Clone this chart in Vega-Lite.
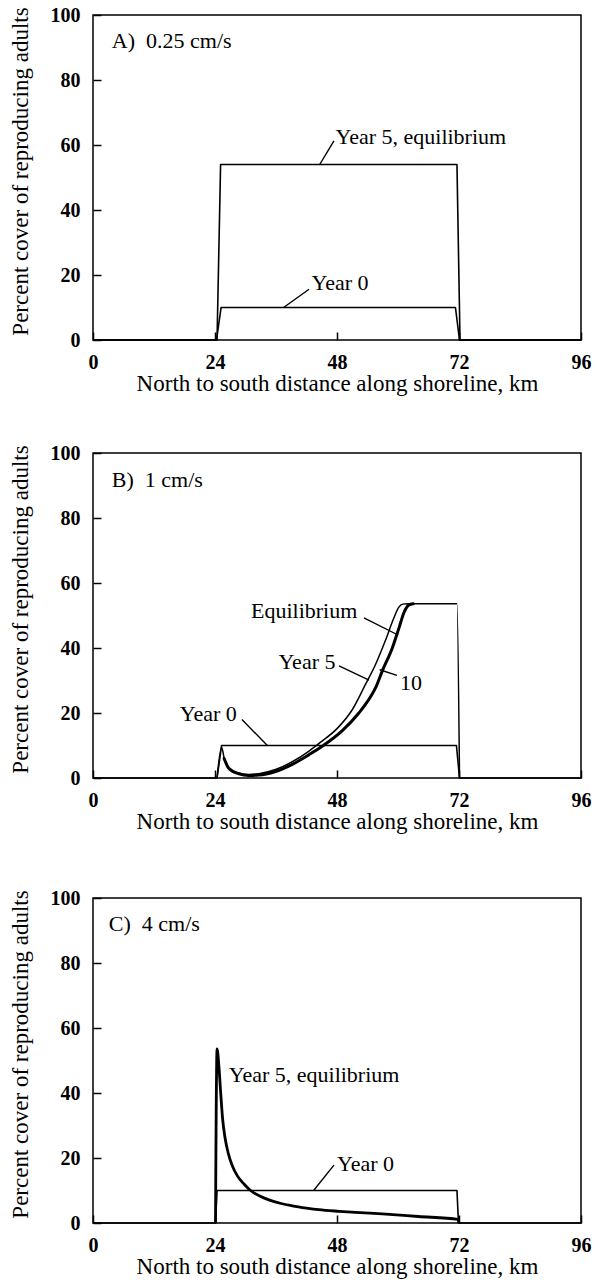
{
  "$schema": "https://vega.github.io/schema/vega-lite/v6.json",
  "padding": {"left": 8, "top": 4, "right": 5, "bottom": 5},
  "background": "white",
  "config": {
    "font": "Liberation Serif",
    "view": {"stroke": "black", "strokeWidth": 1.5},
    "axis": {
      "domain": false, "grid": false,
      "tickColor": "black", "tickSize": -8, "tickWidth": 1.5,
      "labelColor": "black", "labelFont": "Liberation Serif", "labelFontSize": 20, "labelFontWeight": "bold",
      "titleColor": "black", "titleFont": "Liberation Serif", "titleFontSize": 23, "titleFontWeight": "normal"
    },
    "text": {"font": "Liberation Serif", "fontSize": 22, "color": "black"}
  },
  "datasets": {
    "curves": [
      {"panel": "A", "series": "Year 0", "i": 0, "x": 0, "y": 0},
      {"panel": "A", "series": "Year 0", "i": 1, "x": 24.3, "y": 0},
      {"panel": "A", "series": "Year 0", "i": 2, "x": 25.2, "y": 10},
      {"panel": "A", "series": "Year 0", "i": 3, "x": 71.3, "y": 10},
      {"panel": "A", "series": "Year 0", "i": 4, "x": 72.1, "y": 0},
      {"panel": "A", "series": "Year 0", "i": 5, "x": 96, "y": 0},
      {"panel": "A", "series": "Year 5, equilibrium", "i": 0, "x": 0, "y": 0},
      {"panel": "A", "series": "Year 5, equilibrium", "i": 1, "x": 24.4, "y": 0},
      {"panel": "A", "series": "Year 5, equilibrium", "i": 2, "x": 25.1, "y": 54},
      {"panel": "A", "series": "Year 5, equilibrium", "i": 3, "x": 71.6, "y": 54},
      {"panel": "A", "series": "Year 5, equilibrium", "i": 4, "x": 72.2, "y": 0},
      {"panel": "A", "series": "Year 5, equilibrium", "i": 5, "x": 96, "y": 0},

      {"panel": "B", "series": "Year 0", "i": 0, "x": 0, "y": 0},
      {"panel": "B", "series": "Year 0", "i": 1, "x": 24.4, "y": 0},
      {"panel": "B", "series": "Year 0", "i": 2, "x": 25.3, "y": 10},
      {"panel": "B", "series": "Year 0", "i": 3, "x": 71.5, "y": 10},
      {"panel": "B", "series": "Year 0", "i": 4, "x": 72.1, "y": 0},
      {"panel": "B", "series": "Year 0", "i": 5, "x": 96, "y": 0},
      {"panel": "B", "series": "Year 5", "i": 1, "x": 24.4, "y": 0},
      {"panel": "B", "series": "Year 5", "i": 2, "x": 25.3, "y": 9.5},
      {"panel": "B", "series": "Year 5", "i": 3, "x": 25.8, "y": 6.2},
      {"panel": "B", "series": "Year 5", "i": 4, "x": 26.7, "y": 3.1},
      {"panel": "B", "series": "Year 5", "i": 5, "x": 28.7, "y": 1.5},
      {"panel": "B", "series": "Year 5", "i": 6, "x": 30.6, "y": 1.1},
      {"panel": "B", "series": "Year 5", "i": 7, "x": 32.6, "y": 1.3},
      {"panel": "B", "series": "Year 5", "i": 8, "x": 35.9, "y": 2.6},
      {"panel": "B", "series": "Year 5", "i": 9, "x": 39.2, "y": 5.0},
      {"panel": "B", "series": "Year 5", "i": 10, "x": 42.5, "y": 8.3},
      {"panel": "B", "series": "Year 5", "i": 11, "x": 44.6, "y": 10.8},
      {"panel": "B", "series": "Year 5", "i": 12, "x": 48.2, "y": 15.5},
      {"panel": "B", "series": "Year 5", "i": 13, "x": 51.0, "y": 21.0},
      {"panel": "B", "series": "Year 5", "i": 14, "x": 53.6, "y": 28.8},
      {"panel": "B", "series": "Year 5", "i": 15, "x": 55.6, "y": 35.0},
      {"panel": "B", "series": "Year 5", "i": 16, "x": 57.5, "y": 42.2},
      {"panel": "B", "series": "Year 5", "i": 17, "x": 59.2, "y": 49.3},
      {"panel": "B", "series": "Year 5", "i": 18, "x": 60.1, "y": 52.4},
      {"panel": "B", "series": "Year 5", "i": 19, "x": 60.9, "y": 53.5},
      {"panel": "B", "series": "Year 5", "i": 20, "x": 62.0, "y": 53.6},
      {"panel": "B", "series": "Year 5", "i": 21, "x": 71.6, "y": 53.6},
      {"panel": "B", "series": "Year 5", "i": 22, "x": 72.1, "y": 0},
      {"panel": "B", "series": "Equilibrium", "i": 3, "x": 25.8, "y": 6.0},
      {"panel": "B", "series": "Equilibrium", "i": 4, "x": 26.7, "y": 3.0},
      {"panel": "B", "series": "Equilibrium", "i": 5, "x": 28.7, "y": 1.3},
      {"panel": "B", "series": "Equilibrium", "i": 6, "x": 30.6, "y": 0.8},
      {"panel": "B", "series": "Equilibrium", "i": 7, "x": 32.6, "y": 0.9},
      {"panel": "B", "series": "Equilibrium", "i": 8, "x": 35.9, "y": 2.0},
      {"panel": "B", "series": "Equilibrium", "i": 9, "x": 39.2, "y": 4.2},
      {"panel": "B", "series": "Equilibrium", "i": 10, "x": 42.5, "y": 7.2},
      {"panel": "B", "series": "Equilibrium", "i": 11, "x": 45.3, "y": 10.0},
      {"panel": "B", "series": "Equilibrium", "i": 12, "x": 49.0, "y": 14.5},
      {"panel": "B", "series": "Equilibrium", "i": 13, "x": 52.3, "y": 20.0},
      {"panel": "B", "series": "Equilibrium", "i": 14, "x": 54.6, "y": 25.0},
      {"panel": "B", "series": "Equilibrium", "i": 15, "x": 55.6, "y": 27.8},
      {"panel": "B", "series": "Equilibrium", "i": 16, "x": 56.9, "y": 32.9},
      {"panel": "B", "series": "Equilibrium", "i": 17, "x": 58.9, "y": 40.1},
      {"panel": "B", "series": "Equilibrium", "i": 18, "x": 60.2, "y": 46.2},
      {"panel": "B", "series": "Equilibrium", "i": 19, "x": 61.2, "y": 51.0},
      {"panel": "B", "series": "Equilibrium", "i": 20, "x": 62.1, "y": 53.2},
      {"panel": "B", "series": "Equilibrium", "i": 21, "x": 63.0, "y": 53.6},

      {"panel": "C", "series": "Year 0", "i": 0, "x": 0, "y": 0},
      {"panel": "C", "series": "Year 0", "i": 1, "x": 24.1, "y": 0},
      {"panel": "C", "series": "Year 0", "i": 2, "x": 24.4, "y": 10},
      {"panel": "C", "series": "Year 0", "i": 3, "x": 71.6, "y": 10},
      {"panel": "C", "series": "Year 0", "i": 4, "x": 71.9, "y": 0},
      {"panel": "C", "series": "Year 0", "i": 5, "x": 96, "y": 0},
      {"panel": "C", "series": "Year 5, equilibrium", "i": 1, "x": 24.1, "y": 0},
      {"panel": "C", "series": "Year 5, equilibrium", "i": 2, "x": 24.4, "y": 53.6},
      {"panel": "C", "series": "Year 5, equilibrium", "i": 3, "x": 24.8, "y": 47.5},
      {"panel": "C", "series": "Year 5, equilibrium", "i": 4, "x": 25.1, "y": 40.5},
      {"panel": "C", "series": "Year 5, equilibrium", "i": 5, "x": 25.5, "y": 32.0},
      {"panel": "C", "series": "Year 5, equilibrium", "i": 6, "x": 26.0, "y": 26.0},
      {"panel": "C", "series": "Year 5, equilibrium", "i": 7, "x": 26.6, "y": 21.5},
      {"panel": "C", "series": "Year 5, equilibrium", "i": 8, "x": 27.4, "y": 17.6},
      {"panel": "C", "series": "Year 5, equilibrium", "i": 9, "x": 28.4, "y": 14.5},
      {"panel": "C", "series": "Year 5, equilibrium", "i": 10, "x": 29.7, "y": 12.0},
      {"panel": "C", "series": "Year 5, equilibrium", "i": 11, "x": 31.0, "y": 10.0},
      {"panel": "C", "series": "Year 5, equilibrium", "i": 12, "x": 32.8, "y": 8.3},
      {"panel": "C", "series": "Year 5, equilibrium", "i": 13, "x": 34.6, "y": 7.1},
      {"panel": "C", "series": "Year 5, equilibrium", "i": 14, "x": 37.0, "y": 6.0},
      {"panel": "C", "series": "Year 5, equilibrium", "i": 15, "x": 39.2, "y": 5.3},
      {"panel": "C", "series": "Year 5, equilibrium", "i": 16, "x": 42.0, "y": 4.6},
      {"panel": "C", "series": "Year 5, equilibrium", "i": 17, "x": 44.4, "y": 4.1},
      {"panel": "C", "series": "Year 5, equilibrium", "i": 18, "x": 48.4, "y": 3.6},
      {"panel": "C", "series": "Year 5, equilibrium", "i": 19, "x": 52.5, "y": 3.2},
      {"panel": "C", "series": "Year 5, equilibrium", "i": 20, "x": 56.9, "y": 2.8},
      {"panel": "C", "series": "Year 5, equilibrium", "i": 21, "x": 64.0, "y": 2.0},
      {"panel": "C", "series": "Year 5, equilibrium", "i": 22, "x": 71.8, "y": 1.1},
      {"panel": "C", "series": "Year 5, equilibrium", "i": 23, "x": 72.0, "y": 0}
    ],
    "pointers": [
      {"panel": "A", "x": 44.6, "y": 54, "x2": 47.4, "y2": 61.3},
      {"panel": "A", "x": 37.5, "y": 10, "x2": 42.5, "y2": 15.6},
      {"panel": "B", "x": 53.3, "y": 49.3, "x2": 60.0, "y2": 44.0},
      {"panel": "B", "x": 48.4, "y": 34.5, "x2": 54.3, "y2": 30.1},
      {"panel": "B", "x": 59.8, "y": 31.6, "x2": 56.4, "y2": 33.3},
      {"panel": "B", "x": 29.3, "y": 18, "x2": 34.3, "y2": 10},
      {"panel": "C", "x": 43.4, "y": 10, "x2": 47.4, "y2": 17.8}
    ],
    "notesStart": [
      {"panel": "A", "text": "A)\u00a0 0.25 cm/s", "x": 3.7, "y": 92},
      {"panel": "A", "text": "Year 5, equilibrium", "x": 47.7, "y": 62.6},
      {"panel": "A", "text": "Year 0", "x": 43, "y": 17.5},
      {"panel": "B", "text": "B)\u00a0 1 cm/s", "x": 3.7, "y": 91.6},
      {"panel": "B", "text": "10", "x": 60.4, "y": 29.3},
      {"panel": "C", "text": "C)\u00a0 4 cm/s", "x": 3.1, "y": 92.1},
      {"panel": "C", "text": "Year 5, equilibrium", "x": 26.7, "y": 45.6},
      {"panel": "C", "text": "Year 0", "x": 48, "y": 18.2}
    ],
    "notesEnd": [
      {"panel": "B", "text": "Equilibrium", "x": 52.0, "y": 51.4},
      {"panel": "B", "text": "Year 5", "x": 47.7, "y": 35.8},
      {"panel": "B", "text": "Year 0", "x": 28.3, "y": 19.8}
    ]
  },
  "spacing": 46,
  "vconcat": [
    {
      "width": 488, "height": 325,
      "encoding": {
        "x": {"field": "x", "type": "quantitative", "scale": {"domain": [0, 96], "nice": false}, "axis": {"values": [0, 24, 48, 72, 96], "labelPadding": 20, "titlePadding": 0, "labelFlush": false}, "title": "North to south distance along shoreline, km"},
        "y": {"field": "y", "type": "quantitative", "scale": {"domain": [0, 100], "nice": false}, "axis": {"values": [0, 20, 40, 60, 80, 100], "labelPadding": 21, "titlePadding": 18, "titleY": 156}, "title": "Percent cover of reproducing adults"}
      },
      "layer": [
        {"data": {"name": "curves"}, "transform": [{"filter": "datum.panel === 'A'"}], "mark": {"type": "line", "color": "black", "strokeWidth": 1.6, "strokeJoin": "round"},
         "encoding": {"detail": {"field": "series"}, "order": {"field": "i", "type": "quantitative"}}},
        {"data": {"name": "pointers"}, "transform": [{"filter": "datum.panel === 'A'"}], "mark": {"type": "rule", "color": "black", "strokeWidth": 1.4}, "encoding": {"x2": {"field": "x2"}, "y2": {"field": "y2"}}},
        {"data": {"name": "notesStart"}, "transform": [{"filter": "datum.panel === 'A'"}], "mark": {"type": "text", "align": "left", "baseline": "middle"}, "encoding": {"text": {"field": "text"}}}
      ]
    },
    {
      "spacing": 53,
      "vconcat": [
        {
          "width": 488, "height": 325,
          "encoding": {
            "x": {"field": "x", "type": "quantitative", "scale": {"domain": [0, 96], "nice": false}, "axis": {"values": [0, 24, 48, 72, 96], "labelPadding": 20, "titlePadding": 0, "labelFlush": false}, "title": "North to south distance along shoreline, km"},
            "y": {"field": "y", "type": "quantitative", "scale": {"domain": [0, 100], "nice": false}, "axis": {"values": [0, 20, 40, 60, 80, 100], "labelPadding": 21, "titlePadding": 18, "titleY": 156}, "title": "Percent cover of reproducing adults"}
          },
          "layer": [
            {"data": {"name": "curves"}, "transform": [{"filter": "datum.panel === 'B' && datum.series === 'Year 0'"}], "mark": {"type": "line", "color": "black", "strokeWidth": 1.6, "strokeJoin": "round"},
             "encoding": {"detail": {"field": "series"}, "order": {"field": "i", "type": "quantitative"}}},
            {"data": {"name": "curves"}, "transform": [{"filter": "datum.panel === 'B' && datum.series === 'Year 5'"}], "mark": {"type": "line", "color": "black", "strokeWidth": 1.5, "interpolate": "monotone"},
             "encoding": {"detail": {"field": "series"}, "order": {"field": "i", "type": "quantitative"}}},
            {"data": {"name": "curves"}, "transform": [{"filter": "datum.panel === 'B' && datum.series === 'Equilibrium'"}], "mark": {"type": "line", "color": "black", "strokeWidth": 3.0, "interpolate": "monotone", "strokeCap": "round"},
             "encoding": {"detail": {"field": "series"}, "order": {"field": "i", "type": "quantitative"}}},
            {"data": {"name": "pointers"}, "transform": [{"filter": "datum.panel === 'B'"}], "mark": {"type": "rule", "color": "black", "strokeWidth": 1.4}, "encoding": {"x2": {"field": "x2"}, "y2": {"field": "y2"}}},
            {"data": {"name": "notesStart"}, "transform": [{"filter": "datum.panel === 'B'"}], "mark": {"type": "text", "align": "left", "baseline": "middle"}, "encoding": {"text": {"field": "text"}}},
            {"data": {"name": "notesEnd"}, "transform": [{"filter": "datum.panel === 'B'"}], "mark": {"type": "text", "align": "right", "baseline": "middle"}, "encoding": {"text": {"field": "text"}}}
          ]
        },
        {
          "width": 488, "height": 325,
          "encoding": {
            "x": {"field": "x", "type": "quantitative", "scale": {"domain": [0, 96], "nice": false}, "axis": {"values": [0, 24, 48, 72, 96], "labelPadding": 20, "titlePadding": 0, "labelFlush": false}, "title": "North to south distance along shoreline, km"},
            "y": {"field": "y", "type": "quantitative", "scale": {"domain": [0, 100], "nice": false}, "axis": {"values": [0, 20, 40, 60, 80, 100], "labelPadding": 21, "titlePadding": 18, "titleY": 156}, "title": "Percent cover of reproducing adults"}
          },
          "layer": [
            {"data": {"name": "curves"}, "transform": [{"filter": "datum.panel === 'C' && datum.series === 'Year 0'"}], "mark": {"type": "line", "color": "black", "strokeWidth": 1.6, "strokeJoin": "round"},
             "encoding": {"detail": {"field": "series"}, "order": {"field": "i", "type": "quantitative"}}},
            {"data": {"name": "curves"}, "transform": [{"filter": "datum.panel === 'C' && datum.series === 'Year 5, equilibrium'"}], "mark": {"type": "line", "color": "black", "strokeWidth": 2.8, "interpolate": "monotone"},
             "encoding": {"detail": {"field": "series"}, "order": {"field": "i", "type": "quantitative"}}},
            {"data": {"name": "pointers"}, "transform": [{"filter": "datum.panel === 'C'"}], "mark": {"type": "rule", "color": "black", "strokeWidth": 1.4}, "encoding": {"x2": {"field": "x2"}, "y2": {"field": "y2"}}},
            {"data": {"name": "notesStart"}, "transform": [{"filter": "datum.panel === 'C'"}], "mark": {"type": "text", "align": "left", "baseline": "middle"}, "encoding": {"text": {"field": "text"}}}
          ]
        }
      ]
    }
  ]
}
